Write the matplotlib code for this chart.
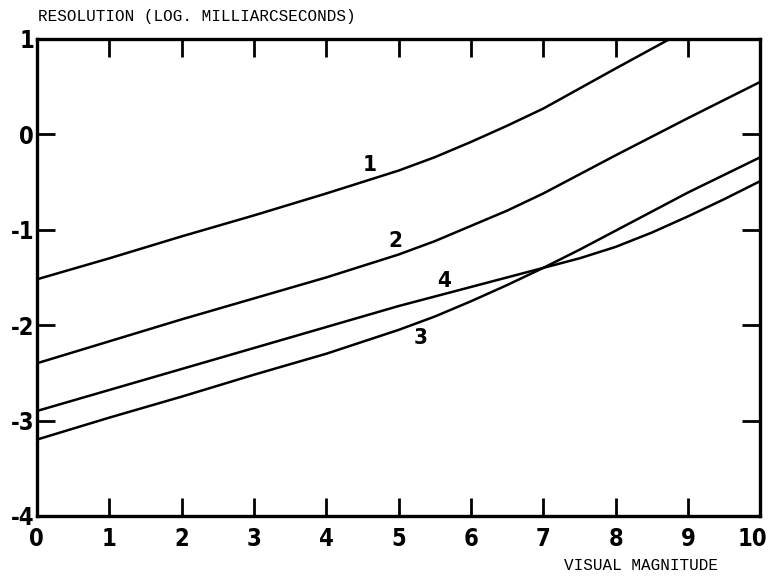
import numpy as np
import matplotlib.pyplot as plt
import matplotlib.transforms as mtransforms

# ==========================
# Data
# ==========================

x1 = [0, 1, 2, 3, 4, 5, 5.5, 6, 6.5, 7, 7.5, 8, 8.75]
y1 = [-1.52, -1.30, -1.07, -0.85, -0.62, -0.38, -0.24, -0.08, 0.09, 0.27, 0.48, 0.69, 1.0]

x2 = [0, 1, 2, 3, 4, 5, 5.5, 6, 6.5, 7, 7.5, 8, 9, 10]
y2 = [-2.40, -2.17, -1.94, -1.72, -1.50, -1.26, -1.12, -0.96, -0.80, -0.62, -0.42, -0.22, 0.17, 0.55]

x3 = [0, 1, 2, 3, 4, 5, 5.5, 6, 6.5, 7, 7.5, 8, 8.5, 9, 10]
y3 = [-3.20, -2.97, -2.75, -2.52, -2.30, -2.05, -1.91, -1.75, -1.58, -1.40, -1.21, -1.01, -0.81, -0.61, -0.24]

x4 = [0, 1, 2, 3, 4, 5, 6, 7, 7.5, 8, 8.5, 9, 9.5, 10]
y4 = [-2.90, -2.68, -2.46, -2.24, -2.02, -1.80, -1.60, -1.40, -1.30, -1.18, -1.03, -0.86, -0.68, -0.49]

curve_labels = ["1", "2", "3", "4"]
label_pos = [(4.6, -0.32), (4.95, -1.12), (5.3, -2.13), (5.63, -1.54)]

xticks = list(range(0, 11))
yticks = [-4, -3, -2, -1, 0, 1]

# ==========================
# Plot
# ==========================

tick_font = dict(family="DejaVu Sans", weight="bold", stretch="condensed")
mono = ["Liberation Mono", "DejaVu Sans Mono"]

fig = plt.figure(figsize=(7.68, 5.81), dpi=100)
ax = fig.add_axes([0.048, 0.112, 0.942, 0.821])

for xs, ys in [(x1, y1), (x2, y2), (x3, y3), (x4, y4)]:
    ax.plot(xs, ys, color="black", linewidth=1.8, solid_capstyle="butt")

for lab, (lx, ly) in zip(curve_labels, label_pos):
    ax.text(lx, ly, lab, fontsize=16, ha="center", va="center", **tick_font)

ax.set_xlim(0, 10)
ax.set_ylim(-4, 1)
ax.set_xticks(xticks)
ax.set_yticks(yticks)
ax.set_xticklabels([str(t) for t in xticks], fontsize=17, **tick_font)
ax.set_yticklabels([str(t) for t in yticks], fontsize=17, **tick_font)

ax.tick_params(direction="in", length=13, width=2, top=True, right=True,
               labeltop=False, labelright=False)
ax.tick_params(axis="x", pad=8)
ax.tick_params(axis="y", pad=2)

# keep the "10" inside the figure edge, like the original
last = ax.get_xticklabels()[-1]
last.set_transform(last.get_transform() +
                   mtransforms.ScaledTranslation(-8 / 100, 0, fig.dpi_scale_trans))

for s in ax.spines.values():
    s.set_linewidth(2.4)

fig.text(0.049, 0.971, "RESOLUTION (LOG. MILLIARCSECONDS)", family=mono,
         fontsize=11.5, ha="left", va="center")
fig.text(0.935, 0.027, "VISUAL MAGNITUDE", family=mono,
         fontsize=11.5, ha="right", va="center")

fig.savefig("out.png", dpi=100)
